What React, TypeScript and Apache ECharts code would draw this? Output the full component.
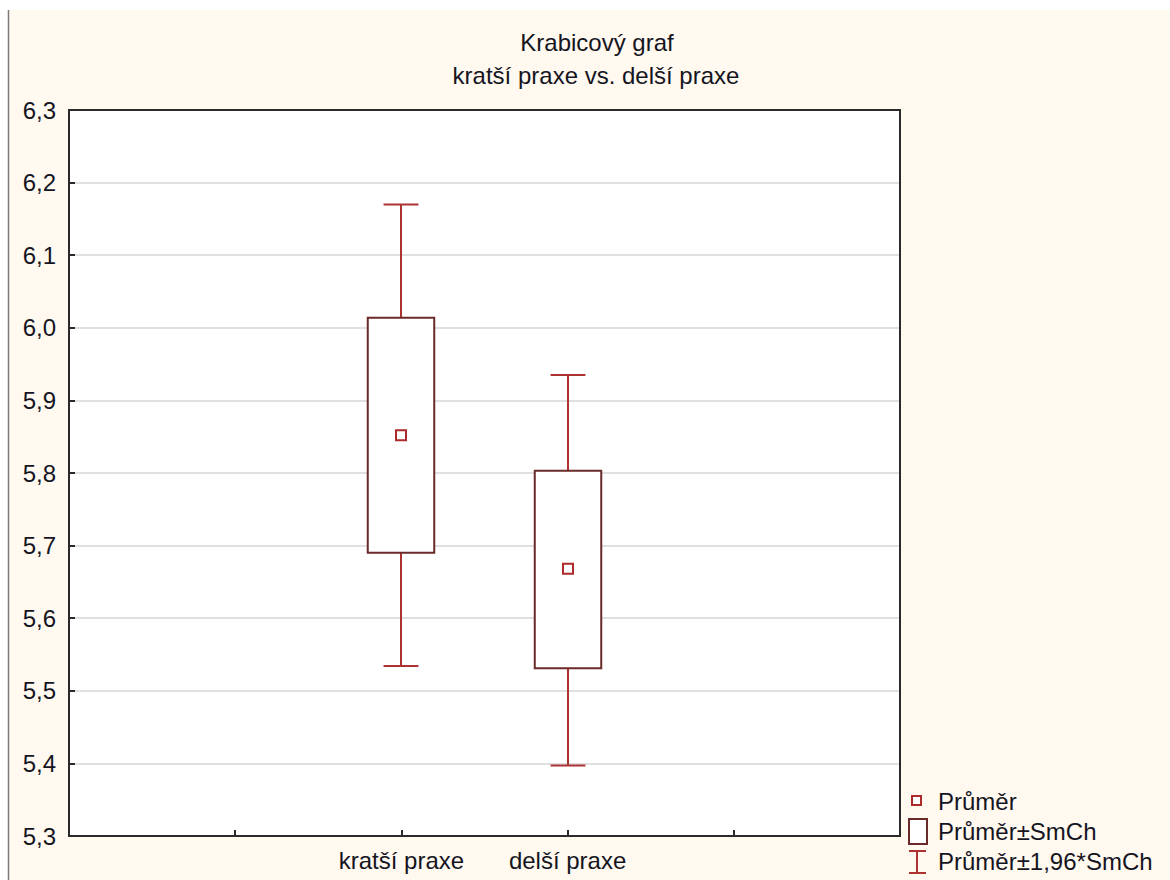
import React, { useEffect, useRef } from "react";
import * as echarts from "echarts";

const categories = ["kratší praxe", "delší praxe"];
const means = [5.852, 5.668];
const seLow = [5.69, 5.531];
const seHigh = [6.014, 5.803];
const ciLow = [5.534, 5.397];
const ciHigh = [6.17, 5.935];
const yTicks = [5.3, 6.3, 0.1];
const titleLines = ["Krabicový graf", "kratší praxe vs. delší praxe"];
const legendLabels = ["Průměr", "Průměr±SmCh", "Průměr±1,96*SmCh"];

const BOX_COLOR = "#6b2a2a";
const WHISKER_COLOR = "#ad3333";
const MEAN_COLOR = "#ad2a2a";
const TEXT_COLOR = "#15151f";
const AXIS_COLOR = "#2a2a2a";
const FONT = "'Liberation Sans', Arial, sans-serif";

const PLOT = { left: 69, top: 110, width: 831, height: 726 };

export default function App() {
  const ref = useRef<HTMLDivElement>(null);
  useEffect(() => {
    document.body.style.margin = "0";
    const chart = echarts.init(ref.current!, null, { renderer: "svg" });
    const xData = ["", "", ...categories, "", ""];
    const offset = 2;
    const boxData = categories.map((_, i) => [
      i + offset,
      means[i],
      seLow[i],
      seHigh[i],
      ciLow[i],
      ciHigh[i],
    ]);

    const option: any = {
      animation: false,
      backgroundColor: "#ffffff",
      textStyle: { fontFamily: FONT },
      grid: { ...PLOT, show: false },
      xAxis: {
        type: "category",
        data: xData,
        boundaryGap: false,
        axisLine: { show: false },
        axisTick: { show: true, inside: true, length: 6, alignWithLabel: true, lineStyle: { color: AXIS_COLOR, width: 2 } },
        axisLabel: {
          color: TEXT_COLOR,
          fontSize: 24,
          fontFamily: FONT,
          margin: 12,
          interval: 0,
        },
        splitLine: { show: false },
      },
      yAxis: {
        type: "value",
        min: yTicks[0],
        max: yTicks[1],
        interval: yTicks[2],
        axisLine: { show: false },
        axisTick: { show: true, inside: true, length: 6, lineStyle: { color: AXIS_COLOR, width: 2 } },
        axisLabel: {
          color: TEXT_COLOR,
          fontSize: 24,
          fontFamily: FONT,
          margin: 13,
          formatter: (v: number) => v.toFixed(1).replace(".", ","),
        },
        splitLine: { show: true, lineStyle: { color: "#e0e0e0", width: 2 } },
      },
      series: [
        {
          type: "custom",
          data: boxData,
          z: 5,
          renderItem: (params: any, api: any) => {
            const x = api.value(0);
            const band = api.size([1, 0])[0];
            const boxW = band * 0.4;
            const capW = band * 0.21;
            const pMean = api.coord([x, api.value(1)]);
            const pSeLo = api.coord([x, api.value(2)]);
            const pSeHi = api.coord([x, api.value(3)]);
            const pCiLo = api.coord([x, api.value(4)]);
            const pCiHi = api.coord([x, api.value(5)]);
            const cx = Math.round(pMean[0]);
            const wStyle = { stroke: WHISKER_COLOR, lineWidth: 2 };
            return {
              type: "group",
              children: [
                { type: "line", shape: { x1: cx, y1: pCiHi[1], x2: cx, y2: pSeHi[1] }, style: wStyle },
                { type: "line", shape: { x1: cx, y1: pSeLo[1], x2: cx, y2: pCiLo[1] }, style: wStyle },
                { type: "line", shape: { x1: cx - capW / 2, y1: pCiHi[1], x2: cx + capW / 2, y2: pCiHi[1] }, style: wStyle },
                { type: "line", shape: { x1: cx - capW / 2, y1: pCiLo[1], x2: cx + capW / 2, y2: pCiLo[1] }, style: wStyle },
                {
                  type: "rect",
                  shape: { x: cx - boxW / 2, y: pSeHi[1], width: boxW, height: pSeLo[1] - pSeHi[1] },
                  style: { fill: "#ffffff", stroke: BOX_COLOR, lineWidth: 2 },
                },
                {
                  type: "rect",
                  shape: { x: cx - 5, y: pMean[1] - 5, width: 10, height: 10 },
                  style: { fill: "#ffffff", stroke: MEAN_COLOR, lineWidth: 2 },
                },
              ],
            };
          },
        },
      ],
      graphic: [
        { type: "rect", z: -20, silent: true, shape: { x: 9, y: 10, width: 1170, height: 880 }, style: { fill: "#fff9ef" } },
        { type: "line", z: -19, silent: true, shape: { x1: 8.5, y1: 10, x2: 8.5, y2: 880 }, style: { stroke: "#7a7a7a", lineWidth: 1.5 } },
        { type: "rect", z: -18, silent: true, shape: { x: PLOT.left, y: PLOT.top, width: PLOT.width, height: PLOT.height }, style: { fill: "#ffffff" } },
        { type: "rect", z: 50, silent: true, shape: { x: PLOT.left, y: PLOT.top, width: PLOT.width, height: PLOT.height }, style: { fill: "none", stroke: AXIS_COLOR, lineWidth: 2 } },
        {
          type: "text",
          x: 597,
          y: 42,
          style: { text: titleLines[0], fill: TEXT_COLOR, font: `24px ${FONT}`, textAlign: "center", textVerticalAlign: "middle" },
        },
        {
          type: "text",
          x: 596,
          y: 75,
          style: { text: titleLines[1], fill: TEXT_COLOR, font: `24px ${FONT}`, textAlign: "center", textVerticalAlign: "middle" },
        },
        // legend
        { type: "rect", shape: { x: 912, y: 796, width: 9, height: 9 }, style: { fill: "#ffffff", stroke: MEAN_COLOR, lineWidth: 2 } },
        { type: "rect", shape: { x: 909, y: 819, width: 18, height: 25 }, style: { fill: "#ffffff", stroke: BOX_COLOR, lineWidth: 2 } },
        { type: "line", shape: { x1: 917, y1: 851, x2: 917, y2: 873 }, style: { stroke: WHISKER_COLOR, lineWidth: 2 } },
        { type: "line", shape: { x1: 909, y1: 851, x2: 926, y2: 851 }, style: { stroke: WHISKER_COLOR, lineWidth: 2 } },
        { type: "line", shape: { x1: 909, y1: 873, x2: 926, y2: 873 }, style: { stroke: WHISKER_COLOR, lineWidth: 2 } },
        {
          type: "text",
          x: 938,
          y: 801,
          style: { text: legendLabels[0], fill: TEXT_COLOR, font: `24px ${FONT}`, textVerticalAlign: "middle" },
        },
        {
          type: "text",
          x: 938,
          y: 831,
          style: { text: legendLabels[1], fill: TEXT_COLOR, font: `24px ${FONT}`, textVerticalAlign: "middle" },
        },
        {
          type: "text",
          x: 938,
          y: 861,
          style: { text: legendLabels[2], fill: TEXT_COLOR, font: `24px ${FONT}`, textVerticalAlign: "middle" },
        },
      ],
    };
    chart.setOption(option);
    return () => chart.dispose();
  }, []);
  return <div ref={ref} style={{ width: 1170, height: 880 }} />;
}
